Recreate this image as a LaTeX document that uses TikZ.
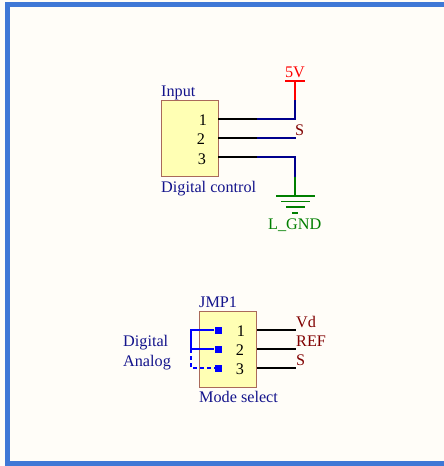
\documentclass[tikz,border=0pt]{standalone}
\usepackage{fontspec}
\setmainfont{Liberation Serif}
\usepackage{tikz}
\usetikzlibrary{positioning}
\usetikzlibrary{calc}
\definecolor{sheetbg}{HTML}{FFFDF8}
\definecolor{framecol}{HTML}{3F78D6}
\definecolor{boxfill}{HTML}{FFFFB4}
\definecolor{boxline}{HTML}{AA6A5A}
\definecolor{navytxt}{HTML}{14148C}
\definecolor{partred}{HTML}{800000}
\definecolor{netblue}{HTML}{00008C}
\definecolor{jumpblue}{HTML}{0000FF}
\definecolor{gndgreen}{HTML}{007F00}
\tikzset{
  lbl/.style={inner sep=0pt, anchor=base west, font=\fontsize{16.2}{17}\selectfont},
  navy/.style={lbl, text=navytxt},
  net/.style={lbl, text=partred},
  pinnum/.style={inner sep=0pt, anchor=base, text=black, font=\fontsize{16.2}{17}\selectfont},
  part/.style={draw=boxline, fill=boxfill, line width=1.4pt, inner sep=0pt, minimum width=57pt, minimum height=76pt, anchor=north west},
  pinwire/.style={line width=1.6pt, black},
  bluewire/.style={line width=1.6pt, netblue},
  jump/.style={fill=jumpblue, inner sep=0pt, minimum size=7pt},
  jumpwire/.style={line width=1.5pt, jumpblue},
  gndbar/.style={line width=1.6pt, gndgreen}
}
\begin{document}
\begin{tikzpicture}[x=1pt, y=-1pt]
\useasboundingbox (0,0) rectangle (444,466);
\fill[sheetbg] (0,0) rectangle (444,466);
\draw[framecol, line width=5pt] (444,4) -- (7.5,4) -- (7.5,463.5) -- (444,463.5);

% upper connector
\node[part] (input) at (161,100) {};
\node[navy] (inputname) at (161,96) {Input};
\node[navy] (inputdesc) at (161,192) {Digital control};
\node[pinnum] (n1) at (203,125) {1};
\node[pinnum] (n2) at (201,144.5) {2};
\node[pinnum] (n3) at (202,164) {3};

\coordinate (p1) at (218,119);
\coordinate (p2) at (218,138);
\coordinate (p3) at (218,157);
\coordinate (m1) at (257,119);
\coordinate (m2) at (257,138);
\coordinate (m3) at (257,157);
\coordinate (c1) at (295,119);
\coordinate (e2) at (296,138);
\coordinate (c3) at (295,157);
\coordinate (vj) at (295,100);
\coordinate (gj) at (295,177);

\node[inner sep=0pt, anchor=base, text=red, font=\fontsize{16.2}{17}\selectfont] (vtext) at (295,77) {5V};
\coordinate (vtop) at (295,81);
\coordinate (vl) at (285,81);
\coordinate (vr) at (305,81);
\node[net] (stext) at (295,135) {S};
\node[lbl, text=gndgreen] (gtext) at (268,229.5) {L\_GND};

\draw[pinwire] (p1) -- (m1);
\draw[pinwire] (p2) -- (m2);
\draw[pinwire] (p3) -- (m3);
\draw[bluewire] (m1) -- (c1) -- (vj);
\draw[bluewire] (m2) -- (e2);
\draw[bluewire] (m3) -- (c3) -- (gj);
\draw[red, line width=1.6pt] (vj) -- (vtop);
\draw[red, line width=1.6pt] (vl) -- (vr);

\coordinate (g0) at (295,196);
\draw[gndbar] (gj) -- (g0);
\draw[gndbar] (276,196) -- (315,196);
\draw[gndbar] (281,201.5) -- (310,201.5);
\draw[gndbar] (286,207) -- (305,207);
\draw[gndbar] (292,213) -- (298,213);

% lower connector
\node[part] (jmp) at (199,311) {};
\node[navy] (jmpname) at (199,307) {JMP1};
\node[navy] (jmpdesc) at (199,402) {Mode select};
\node[navy] (digital) at (123,346) {Digital};
\node[navy] (analog) at (123,366) {Analog};
\node[pinnum] (j1) at (241,336) {1};
\node[pinnum] (j2) at (240,355) {2};
\node[pinnum] (j3) at (240,374) {3};

\coordinate (q1) at (257,330);
\coordinate (q2) at (257,349);
\coordinate (q3) at (257,368);
\node[net] (vdtext) at (296,327) {Vd};
\node[net] (reftext) at (296,346) {REF};
\node[net] (s2text) at (296,365) {S};
\coordinate (r1) at (296,330);
\coordinate (r2) at (296,349);
\coordinate (r3) at (296,368);
\draw[pinwire] (q1) -- (r1);
\draw[pinwire] (q2) -- (r2);
\draw[pinwire] (q3) -- (r3);

\node[jump] (s1) at (218,330) {};
\node[jump] (s2) at (218,349) {};
\node[jump] (s3) at (218,368) {};
\coordinate (b1) at (191,330);
\coordinate (b2) at (191,349);
\coordinate (b3) at (191,368);
\draw[jumpwire] (s1) -- (b1) -- (b2) -- (s2);
\draw[jumpwire, dash pattern=on 4pt off 3pt] (b2) -- (b3) -- (s3);

\end{tikzpicture}
\end{document}
